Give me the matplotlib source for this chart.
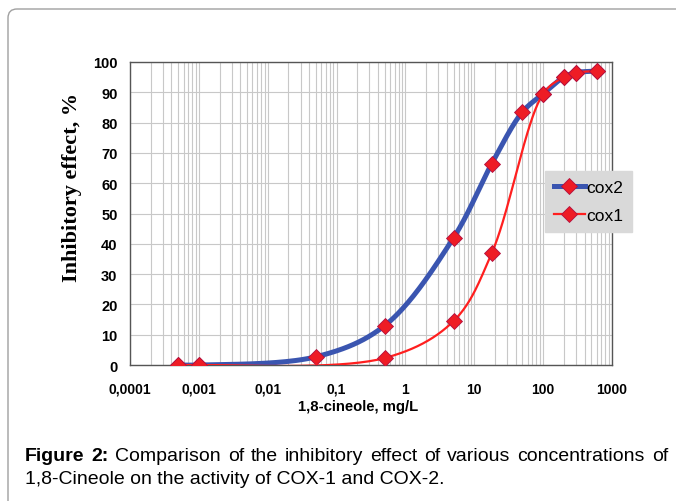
import numpy as np
import matplotlib
matplotlib.use("Agg")
from matplotlib import pyplot as plt
from matplotlib import patches, transforms

# values
conc_cox2 = [0.0005, 0.001, 0.05, 0.5, 5, 18, 50, 100, 200, 300, 600]
effect_cox2 = [0, 0, 2.7, 13, 42, 66.5, 83.5, 89.5, 95, 96.5, 97]
conc_cox1 = [0.0005, 0.001, 0.5, 5, 18, 100, 200, 300, 600]
effect_cox1 = [0, 0, 2.3, 14.5, 37, 89.5, 95, 96.5, 97]
x_ticks = [0.0001, 0.001, 0.01, 0.1, 1, 10, 100, 1000]
x_tick_labels = ["0,0001", "0,001", "0,01", "0,1", "1", "10", "100", "1000"]
y_ticks = list(range(0, 101, 10))

BLUE = "#3a55b0"
RED = "#ff1f1f"
MARKER = "#ee1c25"


def smooth(xs, ys, n=40, alpha=0.5):
    # smoothed line drawn as centripetal Catmull-Rom in log-x screen space
    u = np.log10(xs) * 68.7
    v = np.asarray(ys, dtype=float) * 3.03
    P = np.column_stack([u, v])
    P = np.vstack([2 * P[0] - P[1], P, 2 * P[-1] - P[-2]])
    out = []
    for i in range(1, len(P) - 2):
        p0, p1, p2, p3 = P[i - 1], P[i], P[i + 1], P[i + 2]
        t0 = 0.0
        t1 = t0 + np.linalg.norm(p1 - p0) ** alpha
        t2 = t1 + np.linalg.norm(p2 - p1) ** alpha
        t3 = t2 + np.linalg.norm(p3 - p2) ** alpha
        t = np.linspace(t1, t2, n)[:, None]
        a1 = (t1 - t) / (t1 - t0) * p0 + (t - t0) / (t1 - t0) * p1
        a2 = (t2 - t) / (t2 - t1) * p1 + (t - t1) / (t2 - t1) * p2
        a3 = (t3 - t) / (t3 - t2) * p2 + (t - t2) / (t3 - t2) * p3
        b1 = (t2 - t) / (t2 - t0) * a1 + (t - t0) / (t2 - t0) * a2
        b2 = (t3 - t) / (t3 - t1) * a2 + (t - t1) / (t3 - t1) * a3
        c = (t2 - t) / (t2 - t1) * b1 + (t - t1) / (t2 - t1) * b2
        out.append(c if i == 1 else c[1:])
    pts = np.vstack(out)
    return 10 ** (pts[:, 0] / 68.7), pts[:, 1] / 3.03


fig = plt.figure(figsize=(6.76, 5.02), dpi=100)
ax = fig.add_axes([130 / 676, 1 - 366 / 502, 482 / 676, 303 / 502])

ax.set_xscale("log")
ax.set_xlim(1e-4, 1e3)
ax.set_ylim(0, 100)

ax.set_xticks(x_ticks)
ax.set_xticklabels(x_tick_labels)
ax.set_yticks(y_ticks)
ax.grid(True, which="both", axis="x", color="#c8c8c8", lw=0.8)
ax.grid(True, which="major", axis="y", color="#c8c8c8", lw=0.8)
ax.set_axisbelow(True)
ax.tick_params(which="both", length=0)
ax.tick_params(axis="x", pad=12, labelsize=10)
ax.tick_params(axis="y", pad=9, labelsize=10.5)
for lab in ax.get_xticklabels() + ax.get_yticklabels():
    lab.set_fontweight("bold")
    lab.set_fontfamily("Liberation Sans")
for s in ax.spines.values():
    s.set_color("#555555")
    s.set_linewidth(1.0)

mk = dict(marker="D", ms=8.5, mfc=MARKER, mec="#b01040", mew=0.6)

sx, sy = smooth(conc_cox2, effect_cox2)
ax.plot(sx, sy, color=BLUE, lw=3.6, solid_capstyle="round", zorder=3)
ax.plot(conc_cox2, effect_cox2, ls="none", zorder=4, **mk)
sx, sy = smooth(conc_cox1, effect_cox1)
ax.plot(sx, sy, color=RED, lw=1.6, zorder=5)
ax.plot(conc_cox1, effect_cox1, ls="none", zorder=6, **mk)

# legend proxies
h2, = ax.plot([], [], color=BLUE, lw=3.6, **mk)
h1, = ax.plot([], [], color=RED, lw=1.6, **mk)
leg = fig.legend([h2, h1], ["cox2", "cox1"], loc="upper left",
                 bbox_to_anchor=(545 / 676, 1 - 172 / 502), borderaxespad=0,
                 frameon=True, fancybox=False, facecolor="#d9d9d9", edgecolor="#d9d9d9",
                 framealpha=1, handlelength=1.8, handletextpad=0.1, labelspacing=0.75,
                 borderpad=0.5, prop={"family": "Liberation Sans", "size": 12.5})

fig.text(72 / 676, 1 - 187 / 502, "Inhibitory effect, %", rotation=90,
         ha="center", va="center", family="Liberation Serif", weight="bold", size=16)
fig.text(358 / 676, 1 - 407 / 502, "1,8-cineole, mg/L", ha="center", va="center",
         family="Liberation Sans", weight="bold", size=10.7)

# outer panel frame
frame = patches.FancyBboxPatch((8, -40), 720, 532, boxstyle="round,pad=0,rounding_size=9",
                               transform=transforms.IdentityTransform(),
                               fill=False, ec="#a0a0a0", lw=1.0)
fig.add_artist(frame)

# caption: first line justified word by word
words = ["Figure", "2:", "Comparison", "of", "the", "inhibitory", "effect", "of",
         "various", "concentrations", "of"]
bold = [True, True] + [False] * (len(words) - 2)
y1 = 1 - 457 / 502
texts = []
for w, b in zip(words, bold):
    texts.append(fig.text(0, y1, w, ha="left", va="center", family="Liberation Sans",
                          weight="bold" if b else "normal", size=14))
fig.canvas.draw()
r = fig.canvas.get_renderer()
widths = [t.get_window_extent(r).width for t in texts]
left, right = 25, 668
gap = (right - left - sum(widths)) / (len(words) - 1)
x = left
for t, w in zip(texts, widths):
    t.set_x(x / 676)
    x += w + gap
fig.text(25 / 676, 1 - 480 / 502, "1,8-Cineole on the activity of COX-1 and COX-2.",
         ha="left", va="center", family="Liberation Sans", size=14)

fig.savefig("out.png", dpi=100)
